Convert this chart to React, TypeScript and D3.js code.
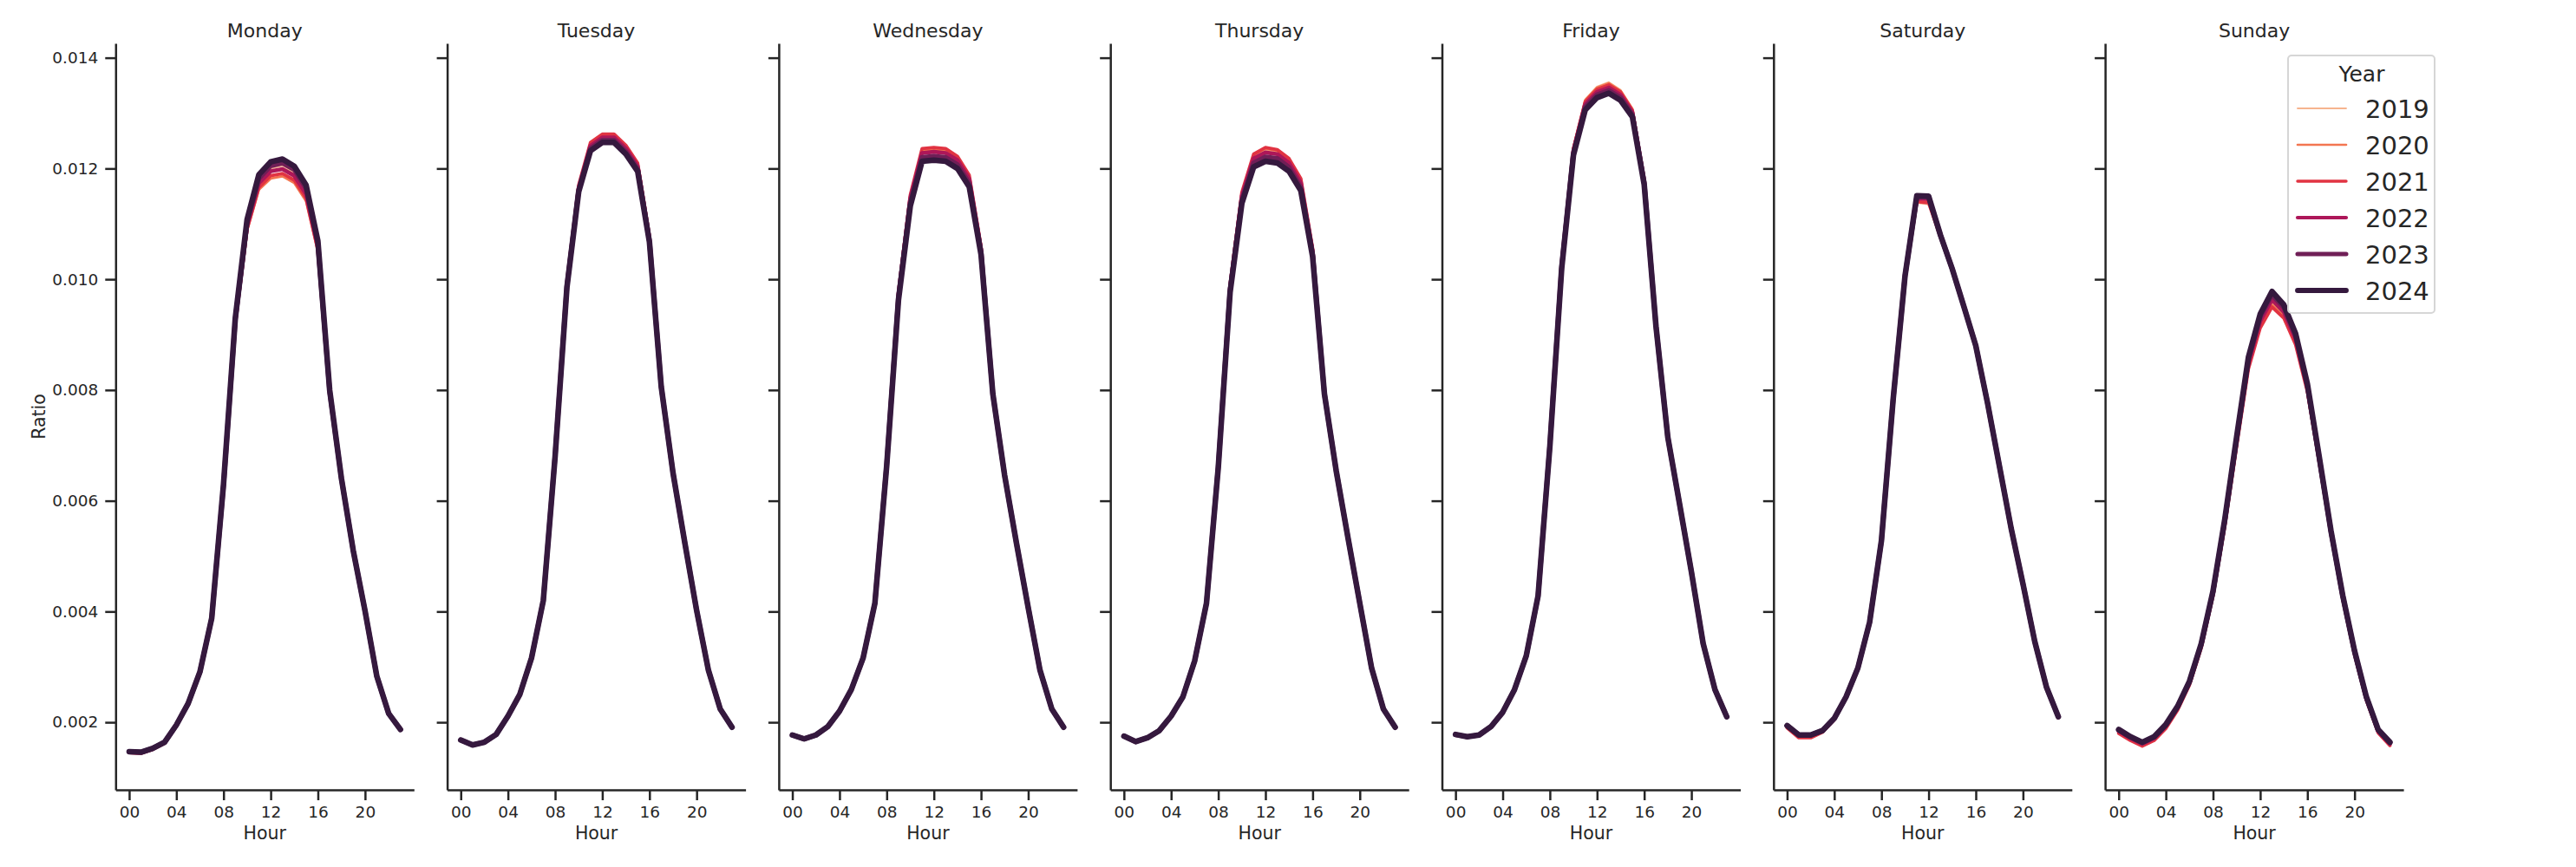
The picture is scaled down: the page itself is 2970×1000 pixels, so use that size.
import * as d3 from 'd3';
import { useEffect, useRef } from 'react';

const hours = [0, 1, 2, 3, 4, 5, 6, 7, 8, 9, 10, 11, 12, 13, 14, 15, 16, 17, 18, 19, 20, 21, 22, 23];
const days = ['Monday', 'Tuesday', 'Wednesday', 'Thursday', 'Friday', 'Saturday', 'Sunday'];
const years = ['2019', '2020', '2021', '2022', '2023', '2024'];
const yearColors = ['#f6b48f', '#f37651', '#e13342', '#ad1759', '#701f57', '#35193e'];
const yearWidths = [2, 2.9, 3.8, 4.7, 5.6, 6.5];
const xTicks = [0, 4, 8, 12, 16, 20];
const yTicks = [0.002, 0.004, 0.006, 0.008, 0.01, 0.012, 0.014];

// Monday
const mon2019 = [0.00146, 0.00145, 0.00152, 0.00163, 0.00194, 0.00233, 0.0029, 0.00387, 0.00627, 0.00925, 0.01097, 0.01177, 0.012, 0.01205, 0.01192, 0.01157, 0.01061, 0.00797, 0.00639, 0.00509, 0.004, 0.00283, 0.00216, 0.00187];
const mon2020 = [0.00145, 0.00144, 0.00151, 0.00162, 0.00193, 0.00232, 0.00289, 0.00386, 0.00623, 0.00918, 0.01088, 0.01162, 0.01182, 0.01186, 0.01174, 0.01141, 0.0105, 0.00793, 0.00638, 0.00508, 0.00399, 0.00282, 0.00215, 0.00186];
const mon2021 = [0.00145, 0.00144, 0.00151, 0.00162, 0.00193, 0.00232, 0.0029, 0.00386, 0.00624, 0.0092, 0.01091, 0.01166, 0.01187, 0.01191, 0.01179, 0.01146, 0.01053, 0.00794, 0.00638, 0.00508, 0.00399, 0.00282, 0.00215, 0.00186];
const mon2022 = [0.00146, 0.00145, 0.00152, 0.00163, 0.00194, 0.00233, 0.0029, 0.00387, 0.00626, 0.00924, 0.01097, 0.01174, 0.01195, 0.01199, 0.01187, 0.01154, 0.01059, 0.00796, 0.00639, 0.00509, 0.004, 0.00283, 0.00216, 0.00187];
const mon2023 = [0.00147, 0.00146, 0.00153, 0.00164, 0.00195, 0.00234, 0.00291, 0.00388, 0.00628, 0.00928, 0.01103, 0.01182, 0.01205, 0.0121, 0.01198, 0.01164, 0.01065, 0.00798, 0.0064, 0.0051, 0.00401, 0.00283, 0.00216, 0.00187];
const mon2024 = [0.00147, 0.00146, 0.00153, 0.00164, 0.00195, 0.00234, 0.00291, 0.00388, 0.0063, 0.0093, 0.01108, 0.01189, 0.01212, 0.01217, 0.01204, 0.0117, 0.01069, 0.008, 0.0064, 0.0051, 0.00401, 0.00283, 0.00216, 0.00187];

// Tuesday
const tue2019 = [0.00168, 0.00159, 0.00164, 0.00178, 0.00211, 0.0025, 0.00316, 0.0042, 0.00684, 0.00991, 0.01166, 0.01243, 0.01259, 0.01258, 0.01238, 0.01206, 0.01075, 0.00806, 0.0065, 0.00524, 0.00402, 0.00294, 0.00224, 0.00191];
const tue2020 = [0.00168, 0.00159, 0.00164, 0.00178, 0.00211, 0.0025, 0.00316, 0.0042, 0.00685, 0.00992, 0.01168, 0.01245, 0.0126, 0.0126, 0.0124, 0.01208, 0.01076, 0.00806, 0.0065, 0.00524, 0.00402, 0.00294, 0.00224, 0.00191];
const tue2021 = [0.00168, 0.00159, 0.00164, 0.00178, 0.00211, 0.0025, 0.00316, 0.0042, 0.00686, 0.00994, 0.0117, 0.01247, 0.01262, 0.01262, 0.01242, 0.0121, 0.01078, 0.00806, 0.0065, 0.00524, 0.00402, 0.00294, 0.00224, 0.00191];
const tue2022 = [0.00168, 0.00159, 0.00164, 0.00178, 0.00211, 0.0025, 0.00316, 0.0042, 0.00683, 0.0099, 0.01165, 0.01241, 0.01256, 0.01256, 0.01236, 0.01204, 0.01073, 0.00806, 0.0065, 0.00524, 0.00402, 0.00294, 0.00224, 0.00191];
const tue2023 = [0.00168, 0.00159, 0.00164, 0.00178, 0.00211, 0.0025, 0.00316, 0.0042, 0.00681, 0.00987, 0.01161, 0.01236, 0.01251, 0.01251, 0.0123, 0.01199, 0.01069, 0.00806, 0.0065, 0.00524, 0.00402, 0.00294, 0.00224, 0.00191];
const tue2024 = [0.00168, 0.00159, 0.00164, 0.00178, 0.00211, 0.0025, 0.00316, 0.0042, 0.0068, 0.00985, 0.01158, 0.01232, 0.01247, 0.01247, 0.01226, 0.01195, 0.01067, 0.00806, 0.0065, 0.00524, 0.00402, 0.00294, 0.00224, 0.00191];

// Wednesday
const wed2019 = [0.00177, 0.0017, 0.00177, 0.00192, 0.0022, 0.00259, 0.00316, 0.00415, 0.00669, 0.00974, 0.01148, 0.01231, 0.01233, 0.01231, 0.01217, 0.01183, 0.01056, 0.00793, 0.00646, 0.00524, 0.00407, 0.00294, 0.00224, 0.00191];
const wed2020 = [0.00177, 0.0017, 0.00177, 0.00192, 0.0022, 0.00259, 0.00316, 0.00415, 0.0067, 0.00975, 0.0115, 0.01233, 0.01235, 0.01233, 0.01219, 0.01185, 0.01057, 0.00793, 0.00646, 0.00524, 0.00407, 0.00294, 0.00224, 0.00191];
const wed2021 = [0.00177, 0.0017, 0.00177, 0.00192, 0.0022, 0.00259, 0.00316, 0.00415, 0.00671, 0.00977, 0.01152, 0.01236, 0.01238, 0.01236, 0.01222, 0.01188, 0.01059, 0.00793, 0.00646, 0.00524, 0.00407, 0.00294, 0.00224, 0.00191];
const wed2022 = [0.00177, 0.0017, 0.00177, 0.00192, 0.0022, 0.00259, 0.00316, 0.00415, 0.00668, 0.00972, 0.01146, 0.01228, 0.0123, 0.01228, 0.01215, 0.01181, 0.01054, 0.00793, 0.00646, 0.00524, 0.00407, 0.00294, 0.00224, 0.00191];
const wed2023 = [0.00177, 0.0017, 0.00177, 0.00192, 0.0022, 0.00259, 0.00316, 0.00415, 0.00665, 0.00967, 0.01138, 0.0122, 0.01222, 0.0122, 0.01207, 0.01173, 0.01049, 0.00793, 0.00646, 0.00524, 0.00407, 0.00294, 0.00224, 0.00191];
const wed2024 = [0.00177, 0.0017, 0.00177, 0.00192, 0.0022, 0.00259, 0.00316, 0.00415, 0.00663, 0.00963, 0.01132, 0.01213, 0.01215, 0.01213, 0.012, 0.01167, 0.01045, 0.00793, 0.00646, 0.00524, 0.00407, 0.00294, 0.00224, 0.00191];

// Thursday
const thu2019 = [0.00175, 0.00165, 0.00172, 0.00185, 0.00211, 0.00246, 0.00311, 0.00415, 0.00666, 0.00986, 0.01152, 0.01221, 0.01233, 0.01229, 0.01213, 0.01177, 0.01052, 0.00793, 0.00654, 0.00533, 0.00415, 0.00298, 0.00224, 0.00191];
const thu2020 = [0.00175, 0.00165, 0.00172, 0.00185, 0.00211, 0.00246, 0.00311, 0.00415, 0.00667, 0.00988, 0.01155, 0.01224, 0.01236, 0.01232, 0.01216, 0.0118, 0.01054, 0.00793, 0.00654, 0.00533, 0.00415, 0.00298, 0.00224, 0.00191];
const thu2021 = [0.00175, 0.00165, 0.00172, 0.00185, 0.00211, 0.00246, 0.00311, 0.00415, 0.00668, 0.0099, 0.01157, 0.01226, 0.01238, 0.01234, 0.01218, 0.01182, 0.01056, 0.00793, 0.00654, 0.00533, 0.00415, 0.00298, 0.00224, 0.00191];
const thu2022 = [0.00175, 0.00165, 0.00172, 0.00185, 0.00211, 0.00246, 0.00311, 0.00415, 0.00665, 0.00985, 0.0115, 0.01218, 0.01229, 0.01226, 0.0121, 0.01174, 0.0105, 0.00793, 0.00654, 0.00533, 0.00415, 0.00298, 0.00224, 0.00191];
const thu2023 = [0.00175, 0.00165, 0.00172, 0.00185, 0.00211, 0.00246, 0.00311, 0.00415, 0.00662, 0.0098, 0.01143, 0.0121, 0.01221, 0.01218, 0.01202, 0.01166, 0.01045, 0.00793, 0.00654, 0.00533, 0.00415, 0.00298, 0.00224, 0.00191];
const thu2024 = [0.00175, 0.00165, 0.00172, 0.00185, 0.00211, 0.00246, 0.00311, 0.00415, 0.0066, 0.00976, 0.01137, 0.01203, 0.01213, 0.0121, 0.01195, 0.0116, 0.01041, 0.00793, 0.00654, 0.00533, 0.00415, 0.00298, 0.00224, 0.00191];

// Friday
const fri2019 = [0.00178, 0.00174, 0.00177, 0.00192, 0.00218, 0.00259, 0.0032, 0.00428, 0.00706, 0.0103, 0.0124, 0.01325, 0.01348, 0.01356, 0.01342, 0.01309, 0.01182, 0.00915, 0.00715, 0.00594, 0.00472, 0.00342, 0.00259, 0.0021];
const fri2020 = [0.00178, 0.00174, 0.00177, 0.00192, 0.00218, 0.00259, 0.0032, 0.00428, 0.00705, 0.01029, 0.01238, 0.01323, 0.01346, 0.01354, 0.0134, 0.01307, 0.01181, 0.00915, 0.00715, 0.00594, 0.00472, 0.00342, 0.00259, 0.0021];
const fri2021 = [0.00178, 0.00174, 0.00177, 0.00192, 0.00218, 0.00259, 0.0032, 0.00428, 0.00704, 0.01028, 0.01236, 0.01321, 0.01343, 0.01351, 0.01338, 0.01305, 0.0118, 0.00915, 0.00715, 0.00594, 0.00472, 0.00342, 0.00259, 0.0021];
const fri2022 = [0.00178, 0.00174, 0.00177, 0.00192, 0.00218, 0.00259, 0.0032, 0.00428, 0.00702, 0.01025, 0.01232, 0.01316, 0.01338, 0.01346, 0.01333, 0.01301, 0.01177, 0.00915, 0.00715, 0.00594, 0.00472, 0.00342, 0.00259, 0.0021];
const fri2023 = [0.00178, 0.00174, 0.00177, 0.00192, 0.00218, 0.00259, 0.0032, 0.00428, 0.007, 0.01022, 0.01228, 0.01311, 0.01333, 0.01341, 0.01328, 0.01297, 0.01174, 0.00915, 0.00715, 0.00594, 0.00472, 0.00342, 0.00259, 0.0021];
const fri2024 = [0.00178, 0.00174, 0.00177, 0.00192, 0.00218, 0.00259, 0.0032, 0.00428, 0.00698, 0.01019, 0.01224, 0.01306, 0.01328, 0.01336, 0.01323, 0.01293, 0.01171, 0.00915, 0.00715, 0.00594, 0.00472, 0.00342, 0.00259, 0.0021];

// Saturday
const sat2019 = [0.00191, 0.00173, 0.00173, 0.00183, 0.00205, 0.00245, 0.00297, 0.0038, 0.00527, 0.00784, 0.01003, 0.01138, 0.01135, 0.01077, 0.01017, 0.00949, 0.00879, 0.00775, 0.00662, 0.00549, 0.00449, 0.00345, 0.00262, 0.00209];
const sat2020 = [0.00191, 0.00173, 0.00173, 0.00183, 0.00205, 0.00245, 0.00297, 0.0038, 0.00527, 0.00784, 0.01003, 0.01142, 0.0114, 0.01077, 0.01017, 0.00949, 0.00879, 0.00775, 0.00662, 0.00549, 0.00449, 0.00345, 0.00262, 0.00209];
const sat2021 = [0.0019, 0.00172, 0.00172, 0.00182, 0.00205, 0.00244, 0.00296, 0.0038, 0.00527, 0.00783, 0.01002, 0.0114, 0.01138, 0.01076, 0.01016, 0.00948, 0.00878, 0.00775, 0.00662, 0.00549, 0.00449, 0.00345, 0.00262, 0.00208];
const sat2022 = [0.00193, 0.00176, 0.00176, 0.00184, 0.00206, 0.00245, 0.00297, 0.00381, 0.00528, 0.00785, 0.01005, 0.01146, 0.01145, 0.01079, 0.01018, 0.0095, 0.0088, 0.00776, 0.00663, 0.0055, 0.0045, 0.00346, 0.00263, 0.0021];
const sat2023 = [0.00194, 0.00177, 0.00177, 0.00185, 0.00207, 0.00246, 0.00298, 0.00381, 0.00528, 0.00785, 0.01006, 0.01149, 0.01148, 0.0108, 0.01019, 0.0095, 0.0088, 0.00776, 0.00663, 0.0055, 0.0045, 0.00346, 0.00263, 0.0021];
const sat2024 = [0.00194, 0.00177, 0.00177, 0.00185, 0.00207, 0.00246, 0.00298, 0.00381, 0.00528, 0.00785, 0.01006, 0.01151, 0.0115, 0.0108, 0.01019, 0.0095, 0.0088, 0.00776, 0.00663, 0.0055, 0.0045, 0.00346, 0.00263, 0.0021];

// Sunday
const sun2019 = [0.00182, 0.00169, 0.00159, 0.00169, 0.00191, 0.00224, 0.00269, 0.00336, 0.0043, 0.00557, 0.00702, 0.00843, 0.00918, 0.00957, 0.00936, 0.00887, 0.008, 0.00672, 0.00541, 0.00424, 0.00324, 0.00241, 0.00182, 0.00159];
const sun2020 = [0.00181, 0.00168, 0.00158, 0.00168, 0.0019, 0.00223, 0.00268, 0.00335, 0.00429, 0.00556, 0.007, 0.00841, 0.00915, 0.00954, 0.00933, 0.00885, 0.00799, 0.00671, 0.0054, 0.00423, 0.00323, 0.00241, 0.00182, 0.00159];
const sun2021 = [0.0018, 0.00167, 0.00157, 0.00167, 0.00189, 0.00222, 0.00267, 0.00334, 0.00428, 0.00554, 0.00698, 0.00838, 0.00912, 0.0095, 0.0093, 0.00882, 0.00797, 0.0067, 0.00539, 0.00422, 0.00322, 0.0024, 0.00181, 0.00158];
const sun2022 = [0.00184, 0.00171, 0.00161, 0.00171, 0.00193, 0.00226, 0.00271, 0.00339, 0.00433, 0.00561, 0.00707, 0.00848, 0.00924, 0.00963, 0.00941, 0.00892, 0.00804, 0.00675, 0.00543, 0.00426, 0.00326, 0.00243, 0.00184, 0.00161];
const sun2023 = [0.00186, 0.00173, 0.00163, 0.00173, 0.00195, 0.00228, 0.00273, 0.00341, 0.00436, 0.00565, 0.00712, 0.00855, 0.00932, 0.00972, 0.00949, 0.00898, 0.00808, 0.00678, 0.00545, 0.00428, 0.00328, 0.00245, 0.00186, 0.00163];
const sun2024 = [0.00187, 0.00174, 0.00164, 0.00174, 0.00196, 0.00229, 0.00274, 0.00342, 0.00437, 0.00567, 0.00715, 0.00859, 0.00937, 0.00978, 0.00954, 0.00902, 0.00811, 0.0068, 0.00546, 0.00429, 0.00329, 0.00246, 0.00187, 0.00164];

// day -> year rows, same order as `years`
const table = [
  [mon2019, mon2020, mon2021, mon2022, mon2023, mon2024],
  [tue2019, tue2020, tue2021, tue2022, tue2023, tue2024],
  [wed2019, wed2020, wed2021, wed2022, wed2023, wed2024],
  [thu2019, thu2020, thu2021, thu2022, thu2023, thu2024],
  [fri2019, fri2020, fri2021, fri2022, fri2023, fri2024],
  [sat2019, sat2020, sat2021, sat2022, sat2023, sat2024],
  [sun2019, sun2020, sun2021, sun2022, sun2023, sun2024],
];

const W = 2970;
const H = 1000;
const FONT = 'DejaVu Sans, sans-serif';
const INK = '#262626';

const App = () => {
  const ref = useRef<SVGSVGElement>(null);

  useEffect(() => {
    const svg = d3.select(ref.current);
    svg.selectAll('*').remove();

    const plotTop = 50;
    const plotBottom = 911;
    const firstLeft = 133.3;
    const panelW = 344;
    const step = 382.3;

    const y = d3.scaleLinear().domain([0.00078, 0.01426]).range([plotBottom, plotTop]);

    days.forEach((day, p) => {
      const left = firstLeft + p * step;
      const x = d3.scaleLinear().domain([-1.15, 24.15]).range([left, left + panelW]);
      const g = svg.append('g');

      const line = d3
        .line<number>()
        .x((_, i) => x(hours[i]))
        .y((d) => y(d));

      table[p].forEach((vals, k) => {
        g.append('path')
          .datum(vals)
          .attr('fill', 'none')
          .attr('stroke', yearColors[k])
          .attr('stroke-width', yearWidths[k])
          .attr('stroke-linejoin', 'round')
          .attr('stroke-linecap', 'round')
          .attr('d', line);
      });

      const xAxis = g
        .append('g')
        .attr('transform', `translate(0,${plotBottom})`)
        .call(
          d3
            .axisBottom(x)
            .tickValues(xTicks)
            .tickFormat(d3.format('02d') as any)
            .tickSize(12)
            .tickSizeOuter(0)
            .tickPadding(7),
        );

      const yAxis = g
        .append('g')
        .attr('transform', `translate(${left},0)`)
        .call(
          d3
            .axisLeft(y)
            .tickValues(yTicks)
            .tickFormat(p === 0 ? (d3.format('.3f') as any) : () => '')
            .tickSize(12)
            .tickSizeOuter(0)
            .tickPadding(8),
        );

      [xAxis, yAxis].forEach((a) => {
        a.select('.domain').attr('stroke', INK).attr('stroke-width', 2.5);
        a.selectAll('.tick line').attr('stroke', INK).attr('stroke-width', 2.5);
        a.selectAll('.tick text')
          .attr('fill', INK)
          .attr('font-family', FONT)
          .attr('font-size', 18.5);
      });

      g.append('text')
        .attr('x', left + panelW / 2)
        .attr('y', 43.3)
        .attr('text-anchor', 'middle')
        .attr('font-family', FONT)
        .attr('font-size', 22)
        .attr('fill', INK)
        .text(day);

      g.append('text')
        .attr('x', left + panelW / 2)
        .attr('y', 968)
        .attr('text-anchor', 'middle')
        .attr('font-family', FONT)
        .attr('font-size', 20.5)
        .attr('fill', INK)
        .text('Hour');
    });

    svg
      .append('text')
      .attr('transform', `translate(52,${(plotTop + plotBottom) / 2}) rotate(-90)`)
      .attr('text-anchor', 'middle')
      .attr('font-family', FONT)
      .attr('font-size', 20.5)
      .attr('fill', INK)
      .text('Ratio');

    // legend
    const lg = svg.append('g');
    lg.append('rect')
      .attr('x', 2638)
      .attr('y', 64)
      .attr('width', 169)
      .attr('height', 297)
      .attr('rx', 4)
      .attr('fill', 'white')
      .attr('fill-opacity', 0.8)
      .attr('stroke', '#d6d6d6')
      .attr('stroke-width', 2);
    lg.append('text')
      .attr('x', 2723)
      .attr('y', 94)
      .attr('text-anchor', 'middle')
      .attr('font-family', FONT)
      .attr('font-size', 25)
      .attr('fill', INK)
      .text('Year');
    years.forEach((yr, k) => {
      const cy = 125 + k * 42;
      lg.append('line')
        .attr('x1', 2649)
        .attr('x2', 2705)
        .attr('y1', cy)
        .attr('y2', cy)
        .attr('stroke', yearColors[k])
        .attr('stroke-width', yearWidths[k] * 0.9)
        .attr('stroke-linecap', 'round');
      lg.append('text')
        .attr('x', 2727)
        .attr('y', cy + 11)
        .attr('font-family', FONT)
        .attr('font-size', 29)
        .attr('fill', INK)
        .text(yr);
    });
  }, []);

  return (
    <svg
      ref={ref}
      width={W}
      height={H}
      viewBox={`0 0 ${W} ${H}`}
      style={{ position: 'absolute', left: 0, top: 0, background: 'white' }}
    />
  );
};

export default App;
